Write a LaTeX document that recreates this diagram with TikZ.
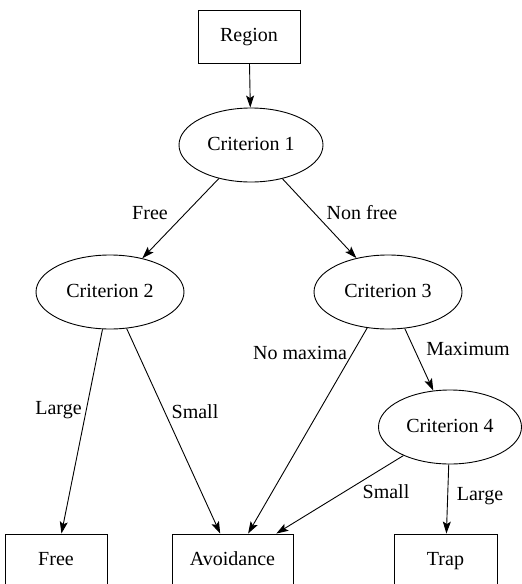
\documentclass[tikz,border=0pt]{standalone}
\usepackage{fontspec}
\setmainfont{Liberation Serif}
\usetikzlibrary{shapes.geometric,arrows.meta}
\begin{document}
\begin{tikzpicture}[x=1pt,y=-1pt,
  font=\fontsize{20}{24}\selectfont,
  every node/.style={inner sep=0pt, text height=1em, text depth=0pt},
  boxnode/.style={draw, line width=0.9pt, rectangle, minimum height=53pt},
  ellnode/.style={draw, line width=0.9pt, ellipse, minimum width=146pt, minimum height=74pt},
  lbl/.style={anchor=base, text height=, text depth=},
  edge/.style={line width=0.9pt, -{Stealth[length=12pt,width=8pt,inset=2.5pt]}}
]
\useasboundingbox (0,0) rectangle (522,584);
\clip (-2,-2) rectangle (524,584);
\node[boxnode, minimum width=102pt] (region) at (249,36.5) {Region};
\node[ellnode, minimum width=144pt] (c1) at (251,145) {Criterion 1};
\node[ellnode, minimum width=148pt] (c2) at (110,292) {Criterion 2};
\node[ellnode, minimum width=148pt] (c3) at (388,292) {Criterion 3};
\node[ellnode, minimum width=143pt] (c4) at (450,427) {Criterion 4};
\node[boxnode, minimum width=102pt] (free) at (56,560.5) {Free};
\node[boxnode, minimum width=121pt] (avoid) at (232.5,560.5) {Avoidance};
\node[boxnode, minimum width=103pt] (trap) at (445.5,560.5) {Trap};

\draw[edge] (region) -- (c1);
\draw[edge] (c1) -- (c2);
\draw[edge] (c1) -- (c3);
\draw[edge] (c2) -- (free);
\draw[edge] (c2) -- (avoid);
\draw[edge] (c3) -- (avoid);
\draw[edge] (c3) -- (c4);
\draw[edge] (c4) -- (avoid);
\draw[edge] (c4) -- (trap);

\node[lbl] (lfree) at (150,219) {Free};
\node[lbl] (lnonfree) at (362,219) {Non free};
\node[lbl] (llarge1) at (58.5,414) {Large};
\node[lbl] (lsmall1) at (195,418) {Small};
\node[lbl] (lnomax) at (300,359) {No maxima};
\node[lbl] (lmax) at (468,355) {Maximum};
\node[lbl] (lsmall2) at (386,498) {Small};
\node[lbl] (llarge2) at (480,500) {Large};
\end{tikzpicture}
\end{document}
